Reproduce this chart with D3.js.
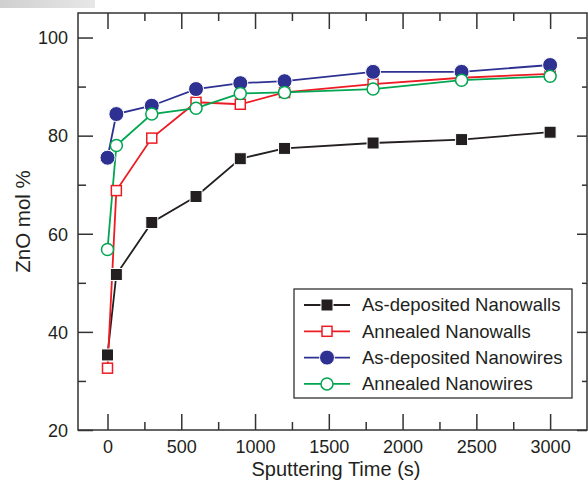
<!DOCTYPE html>
<html>
<head>
<meta charset="utf-8">
<script src="https://cdn.jsdelivr.net/npm/d3@7"></script>
<style>
  body { margin: 0; background: #fff; }
  svg { display: block; font-family: "Liberation Sans", Arial, sans-serif; }
</style>
</head>
<body>
<svg id="chart" width="588" height="480"></svg>
<script>
const times = [0, 60, 300, 600, 900, 1200, 1800, 2400, 3000];
const asDepWalls = [35.3, 51.7, 62.3, 67.6, 75.3, 77.4, 78.5, 79.2, 80.7];
const annWalls = [32.6, 68.8, 79.5, 86.8, 86.4, 88.8, 90.5, 91.8, 92.6];
const asDepWires = [75.5, 84.4, 86.1, 89.5, 90.7, 91.1, 93.0, 93.0, 94.4];
const annWires = [56.8, 78.0, 84.4, 85.6, 88.6, 88.8, 89.5, 91.3, 92.1];
const xTicks = [0, 500, 1000, 1500, 2000, 2500, 3000];
const yTicks = [20, 40, 60, 80, 100];

const series = [
  { name: "As-deposited Nanowalls", values: asDepWalls, color: "#231f20", shape: "square", filled: true },
  { name: "Annealed Nanowalls", values: annWalls, color: "#ed1c24", shape: "square", filled: false },
  { name: "As-deposited Nanowires", values: asDepWires, color: "#2e3192", shape: "circle", filled: true },
  { name: "Annealed Nanowires", values: annWires, color: "#00a651", shape: "circle", filled: false },
];

const margin = { top: 13, right: 1, bottom: 50, left: 78 };
const width = 588, height = 480;
const innerW = width - margin.left - margin.right;
const innerH = height - margin.top - margin.bottom;
const axisColor = "#333";

const svg = d3.select("#chart");

// faint scan artifact at top-left
const grad = svg.append("defs").append("linearGradient").attr("id", "fade");
grad.append("stop").attr("offset", "0%").attr("stop-color", "#bbb");
grad.append("stop").attr("offset", "100%").attr("stop-color", "#ddd");
svg.append("rect").attr("x", 0).attr("y", 0).attr("width", 95).attr("height", 8)
  .attr("fill", "url(#fade)").attr("opacity", 0.7);

const g = svg.append("g").attr("transform", `translate(${margin.left},${margin.top})`);

const x = d3.scaleLinear().domain([-200, 3250]).range([0, innerW]);
const y = d3.scaleLinear().domain([20, 105]).range([innerH, 0]);

const minorX = d3.range(250, 3250, 500);
const minorY = d3.range(30, 105, 20);

// frame
g.append("rect").attr("width", innerW).attr("height", innerH)
  .attr("fill", "none").attr("stroke", axisColor).attr("stroke-width", 1.5);

function styleAxis(sel) {
  sel.select(".domain").remove();
  sel.selectAll(".tick line").attr("stroke", axisColor).attr("stroke-width", 1.5);
  sel.selectAll(".tick text").attr("fill", "#231f20").style("font-size", "18px");
}

g.append("g").attr("transform", `translate(0,${innerH})`)
  .call(d3.axisBottom(x).tickValues(xTicks).tickSize(-16).tickPadding(10).tickFormat(d3.format("d")))
  .call(styleAxis);
g.append("g").attr("transform", `translate(0,${innerH})`)
  .call(d3.axisBottom(x).tickValues(minorX).tickSize(-8).tickFormat(""))
  .call(styleAxis);
g.append("g")
  .call(d3.axisTop(x).tickValues(xTicks).tickSize(-16).tickFormat(""))
  .call(styleAxis);
g.append("g")
  .call(d3.axisTop(x).tickValues(minorX).tickSize(-8).tickFormat(""))
  .call(styleAxis);

g.append("g")
  .call(d3.axisLeft(y).tickValues(yTicks).tickSize(-15).tickPadding(10))
  .call(styleAxis)
  .selectAll(".tick text").attr("x", -10).attr("dy", "0.35em");
g.append("g")
  .call(d3.axisLeft(y).tickValues(minorY).tickSize(-8).tickFormat(""))
  .call(styleAxis);
g.append("g").attr("transform", `translate(${innerW},0)`)
  .call(d3.axisRight(y).tickValues(yTicks).tickSize(-10).tickFormat(""))
  .call(styleAxis);
g.append("g").attr("transform", `translate(${innerW},0)`)
  .call(d3.axisRight(y).tickValues(minorY).tickSize(-5).tickFormat(""))
  .call(styleAxis);

// axis titles
svg.append("text")
  .attr("x", 336).attr("y", 475.5)
  .attr("text-anchor", "middle").attr("fill", "#231f20")
  .style("font-size", "20px").text("Sputtering Time (s)");
svg.append("text")
  .attr("transform", `translate(30,${margin.top + innerH / 2}) rotate(-90)`)
  .attr("text-anchor", "middle").attr("fill", "#231f20")
  .style("font-size", "20.5px").text("ZnO mol %");

const line = d3.line().x((d, i) => x(times[i])).y((d) => y(d));

function drawMarker(sel, s) {
  if (s.shape === "square") {
    const size = s.filled ? 12 : 10;
    sel.append("rect")
      .attr("x", -size / 2).attr("y", -size / 2)
      .attr("width", size).attr("height", size)
      .attr("fill", s.filled ? s.color : "#fff")
      .attr("stroke", s.filled ? "#fff" : s.color)
      .attr("stroke-width", s.filled ? 1 : 1.5);
  } else {
    sel.append("circle")
      .attr("r", s.filled ? 7.5 : 6)
      .attr("fill", s.filled ? s.color : "#fff")
      .attr("stroke", s.filled ? "#fff" : s.color)
      .attr("stroke-width", s.filled ? 1 : 1.5);
  }
}

series.forEach((s) => {
  g.append("path")
    .datum(s.values)
    .attr("d", line)
    .attr("fill", "none")
    .attr("stroke", s.color)
    .attr("stroke-width", 1.8);
});

series.forEach((s) => {
  g.selectAll(null)
    .data(s.values)
    .join("g")
    .attr("transform", (d, i) => `translate(${x(times[i])},${y(d)})`)
    .each(function () { drawMarker(d3.select(this), s); });
});

// legend
const legend = svg.append("g").attr("transform", "translate(294,289)");
legend.append("rect").attr("width", 278).attr("height", 109)
  .attr("fill", "#fff").attr("stroke", "#231f20").attr("stroke-width", 1.2);

const items = legend.selectAll(".legend-item")
  .data(series)
  .join("g")
  .attr("class", "legend-item")
  .attr("transform", (d, i) => `translate(0,${16 + i * 26.3})`);

items.append("line")
  .attr("x1", 10).attr("x2", 56)
  .attr("stroke", (d) => d.color).attr("stroke-width", 1.8);
items.append("g").attr("transform", "translate(33,0)")
  .each(function (d) { drawMarker(d3.select(this), d); });
items.append("text")
  .attr("x", 68).attr("dy", "0.35em")
  .attr("fill", "#231f20")
  .style("font-size", "18.5px")
  .text((d) => d.name);
</script>
</body>
</html>
